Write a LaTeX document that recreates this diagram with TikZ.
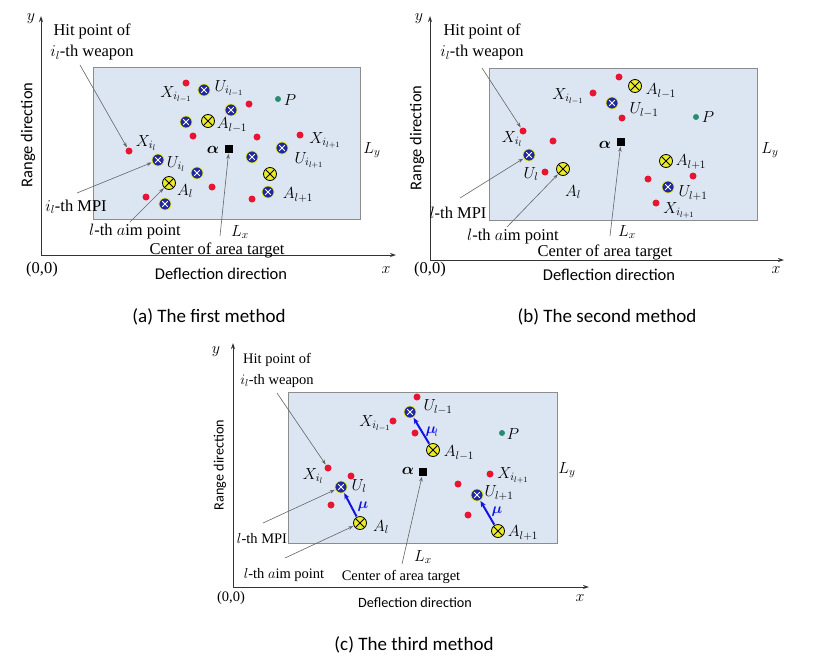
\RequirePackage{fix-cm}
\documentclass[tikz,border=0pt]{standalone}
\usepackage{amsmath,bm}
\usepackage{fontspec}
\setmainfont{Liberation Serif}
\newfontfamily\sansf{Carlito}
\usetikzlibrary{arrows.meta}
\definecolor{rectfill}{RGB}{220,230,242}
\definecolor{rectdraw}{RGB}{140,140,140}
\definecolor{dotred}{RGB}{232,20,50}
\definecolor{markblue}{RGB}{30,40,160}
\definecolor{markyellow}{RGB}{235,235,40}
\definecolor{dotteal}{RGB}{40,140,110}
\definecolor{arrgray}{RGB}{100,100,100}
\definecolor{mublue}{RGB}{20,20,225}
\tikzset{
  axis/.style={line width=1pt, black!80, -{Stealth[length=6pt,width=4pt]}},
  area/.style={fill=rectfill, draw=rectdraw, line width=0.8pt},
  lab/.style={inner sep=0pt, font=\fontsize{16}{18}\selectfont},
  mulab/.style={inner sep=0pt, text=mublue, font=\fontsize{15}{16}\selectfont},
  txt/.style={inner sep=0pt, align=center, font=\fontsize{16.5}{21}\selectfont},
  txtc/.style={inner sep=0pt, align=center, font=\fontsize{14.5}{21}\selectfont},
  sanslab/.style={inner sep=0pt, font=\sansf\fontsize{16.5}{18}\selectfont},
  sanslabc/.style={inner sep=0pt, font=\sansf\fontsize{14.2}{16}\selectfont},
  caption/.style={inner sep=0pt, font=\sansf\fontsize{19}{21}\selectfont},
  ptr/.style={arrgray, line width=0.6pt, -{Stealth[length=5pt,width=3.5pt]}, shorten >=0.5pt},
  muarrow/.style={mublue, line width=2pt, -{Stealth[length=6pt,width=5pt]}, shorten >=0.5pt, shorten <=0.5pt},
  rd/.style={circle, fill=dotred, inner sep=0pt, minimum size=7pt},
  td/.style={circle, fill=dotteal, inner sep=0pt, minimum size=6pt},
  sq/.style={fill=black, inner sep=0pt, minimum size=8pt},
  bm/.style={circle, fill=markblue, draw=markyellow, line width=0.7pt, minimum size=12pt, inner sep=0pt,
    path picture={\draw[white,line width=0.9pt]
      ([shift={(-2.8,-2.8)}]path picture bounding box.center) -- ([shift={(2.8,2.8)}]path picture bounding box.center)
      ([shift={(-2.8,2.8)}]path picture bounding box.center) -- ([shift={(2.8,-2.8)}]path picture bounding box.center);}},
  ym/.style={circle, fill=markyellow, draw=black, line width=0.8pt, minimum size=13pt, inner sep=0pt,
    path picture={\draw[black,line width=0.9pt]
      ([shift={(-4.8,-4.8)}]path picture bounding box.center) -- ([shift={(4.8,4.8)}]path picture bounding box.center)
      ([shift={(-4.8,4.8)}]path picture bounding box.center) -- ([shift={(4.8,-4.8)}]path picture bounding box.center);}}
}
\begin{document}
\begin{tikzpicture}[x=1pt,y=-1pt]
\useasboundingbox (0,0) rectangle (826,664);
\fill[white] (0,0) rectangle (826,664);

%%%%%%%%%%%%%%%% (a)
\coordinate (aO) at (41,255);
\coordinate (aY) at (41,16);
\coordinate (aX) at (396,255);
\draw[axis] (aO) -- (aY);
\draw[axis] (aO) -- (aX);
\node[lab] (a-y) at (31,19) {$y$};
\node[lab] (a-x) at (386,270) {$x$};
\node[txt] (a-00) at (42,270) {(0,0)};
\node[sanslab] (a-defl) at (221,274) {Deflection direction};
\node[sanslab, rotate=90] (a-range) at (28,135) {Range direction};
\draw[area] (93,67) rectangle (360,219);
\node[txt] (a-hit) at (92,42) {Hit point of\\$i_l$-th weapon};
\node[txt] (a-mpi) at (76,207) {$i_l$-th MPI};
\node[txt] (a-aim) at (135,232) {$l$-th $a$im point};
\node[txt] (a-center) at (217,250) {Center of area target};
\node[lab] (a-Lx) at (240,232) {$L_x$};
\node[lab] (a-Ly) at (372,150) {$L_y$};
\node[sq] (a-sq) at (229,149) {};
\node[lab] (a-alpha) at (213,150) {$\bm{\alpha}$};
% red
\node[rd] (a-r1) at (186,83) {};
\node[rd] (a-r2) at (249,104) {};
\node[rd] (a-r3) at (193,136) {};
\node[rd] (a-r4) at (257,137) {};
\node[rd] (a-r5) at (300,135) {};
\node[rd] (a-r6) at (129,151) {};
\node[rd] (a-r7) at (212,187) {};
\node[rd] (a-r8) at (146,197) {};
\node[rd] (a-r9) at (252,199) {};
% blue
\node[bm] (a-b1) at (204,90) {};
\node[bm] (a-b2) at (231,110) {};
\node[bm] (a-b3) at (186,122) {};
\node[bm] (a-b4) at (158,160) {};
\node[bm] (a-b5) at (197,173) {};
\node[bm] (a-b6) at (252,157) {};
\node[bm] (a-b7) at (282,148) {};
\node[bm] (a-b8) at (165,204) {};
\node[bm] (a-b9) at (268,192) {};
% yellow
\node[ym] (a-y1) at (208,121) {};
\node[ym] (a-y2) at (270,174) {};
\node[ym] (a-y3) at (169,183) {};
\node[td] (a-p) at (278,99) {};
% labels
\node[lab] (a-lX1) at (176,94) {$X_{i_{l-1}}$};
\node[lab] (a-lU1) at (229,88) {$U_{i_{l-1}}$};
\node[lab] (a-lP) at (290,100) {$P$};
\node[lab] (a-lA1) at (232,125) {$A_{l-1}$};
\node[lab] (a-lX3) at (325,140) {$X_{i_{l+1}}$};
\node[lab] (a-lX2) at (146,143) {$X_{i_l}$};
\node[lab] (a-lU2) at (176,164) {$U_{i_l}$};
\node[lab] (a-lU3) at (309,160) {$U_{i_{l+1}}$};
\node[lab] (a-lA2) at (185,191) {$A_l$};
\node[lab] (a-lA3) at (298,195) {$A_{l+1}$};
% pointers
\coordinate (a-t1) at (80,65);
\coordinate (a-t2) at (77,193);
\coordinate (a-t3) at (130,222);
\coordinate (a-t4) at (220,236);
\draw[ptr] (a-t1) -- (a-r6);
\draw[ptr] (a-t2) -- (a-b4);
\draw[ptr] (a-t3) -- (a-y3);
\draw[ptr] (a-t4) -- (a-sq);
\node[caption] (a-cap) at (209,317) {(a) The first method};

%%%%%%%%%%%%%%%% (b)
\coordinate (bO) at (430,260);
\coordinate (bY) at (430,16);
\coordinate (bX) at (784,260);
\draw[axis] (bO) -- (bY);
\draw[axis] (bO) -- (bX);
\node[lab] (b-y) at (419,19) {$y$};
\node[lab] (b-x) at (776,270) {$x$};
\node[txt] (b-00) at (430,270) {(0,0)};
\node[sanslab] (b-defl) at (609,275) {Deflection direction};
\node[sanslab, rotate=90] (b-range) at (417,138) {Range direction};
\draw[area] (489,68) rectangle (757,220);
\node[txt] (b-hit) at (482,42) {Hit point of\\$i_l$-th weapon};
\node[txt] (b-mpi) at (458,213) {$l$-th MPI};
\node[txt] (b-aim) at (513,237) {$l$-th $a$im point};
\node[txt] (b-center) at (605,252) {Center of area target};
\node[lab] (b-Lx) at (627,232) {$L_x$};
\node[lab] (b-Ly) at (770,150) {$L_y$};
\node[sq] (b-sq) at (621,142) {};
\node[lab] (b-alpha) at (605,145) {$\bm{\alpha}$};
\node[rd] (b-r1) at (619,77) {};
\node[rd] (b-r2) at (593,93) {};
\node[rd] (b-r3) at (622,118) {};
\node[rd] (b-r4) at (523,131) {};
\node[rd] (b-r5) at (553,141) {};
\node[rd] (b-r6) at (545,172) {};
\node[rd] (b-r7) at (648,179) {};
\node[rd] (b-r8) at (693,176) {};
\node[rd] (b-r9) at (656,203) {};
\node[bm] (b-b1) at (612,103) {};
\node[bm] (b-b2) at (529,155) {};
\node[bm] (b-b3) at (668,187) {};
\node[ym] (b-y1) at (635,86) {};
\node[ym] (b-y2) at (563,169) {};
\node[ym] (b-y3) at (666,161) {};
\node[td] (b-p) at (696,117) {};
\node[lab] (b-lA1) at (661,91) {$A_{l-1}$};
\node[lab] (b-lX1) at (568,96) {$X_{i_{l-1}}$};
\node[lab] (b-lU1) at (644,110) {$U_{l-1}$};
\node[lab] (b-lP) at (708,117) {$P$};
\node[lab] (b-lX2) at (512,139) {$X_{i_l}$};
\node[lab] (b-lU2) at (531,174) {$U_l$};
\node[lab] (b-lA2) at (573,192) {$A_l$};
\node[lab] (b-lA3) at (691,162) {$A_{l+1}$};
\node[lab] (b-lU3) at (693,193) {$U_{l+1}$};
\node[lab] (b-lX3) at (679,210) {$X_{i_{l+1}}$};
\coordinate (b-t1) at (482,68);
\coordinate (b-t2) at (460,198);
\coordinate (b-t3) at (507,227);
\coordinate (b-t4) at (610,236);
\draw[ptr] (b-t1) -- (b-r4);
\draw[ptr] (b-t2) -- (b-b2);
\draw[ptr] (b-t3) -- (b-y2);
\draw[ptr] (b-t4) -- (b-sq);
\node[caption] (b-cap) at (607,317) {(b) The second method};

%%%%%%%%%%%%%%%% (c)
\coordinate (cO) at (233,587);
\coordinate (cY) at (233,343);
\coordinate (cX) at (589,587);
\draw[axis] (cO) -- (cY);
\draw[axis] (cO) -- (cX);
\node[lab] (c-y) at (216,352) {$y$};
\node[lab] (c-x) at (580,598) {$x$};
\node[txtc] (c-00) at (231,598) {(0,0)};
\node[sanslabc] (c-defl) at (415,603) {Deflection direction};
\node[sanslabc, rotate=90] (c-range) at (220,465) {Range direction};
\draw[area] (288,392) rectangle (557,543);
\node[txtc] (c-hit) at (277,370) {Hit point of\\$i_l$-th weapon};
\node[txtc] (c-mpi) at (262,539) {$l$-th MPI};
\node[txtc] (c-aim) at (284,575) {$l$-th $a$im point};
\node[txtc] (c-center) at (401,577) {Center of area target};
\node[lab] (c-Lx) at (423,557) {$L_x$};
\node[lab] (c-Ly) at (567,470) {$L_y$};
\node[sq] (c-sq) at (423,472) {};
\node[lab] (c-alpha) at (408,471) {$\bm{\alpha}$};
\node[rd] (c-r1) at (417,397) {};
\node[rd] (c-r2) at (393,421) {};
\node[rd] (c-r3) at (415,433) {};
\node[rd] (c-r4) at (328,468) {};
\node[rd] (c-r5) at (351,476) {};
\node[rd] (c-r6) at (490,474) {};
\node[rd] (c-r7) at (458,484) {};
\node[rd] (c-r8) at (331,505) {};
\node[rd] (c-r9) at (468,515) {};
\node[bm] (c-b1) at (410,412) {};
\node[bm] (c-b2) at (341,487) {};
\node[bm] (c-b3) at (477,495) {};
\node[ym] (c-y1) at (433,450) {};
\node[ym] (c-y2) at (360,523) {};
\node[ym] (c-y3) at (498,531) {};
\node[td] (c-p) at (502,433) {};
\draw[muarrow] (c-y1) -- (c-b1);
\draw[muarrow] (c-y2) -- (c-b2);
\draw[muarrow] (c-y3) -- (c-b3);
\node[mulab] (c-mu1) at (432,432) {$\bm{\mu}_{\!l}$};
\node[mulab] (c-mu2) at (363,507) {$\bm{\mu}$};
\node[mulab] (c-mu3) at (497,512) {$\bm{\mu}$};
\node[lab] (c-lU1) at (438,407) {$U_{l-1}$};
\node[lab] (c-lX1) at (375,423) {$X_{i_{l-1}}$};
\node[lab] (c-lA1) at (459,453) {$A_{l-1}$};
\node[lab] (c-lP) at (513,434) {$P$};
\node[lab] (c-lX2) at (313,476) {$X_{i_l}$};
\node[lab] (c-lU2) at (359,486) {$U_l$};
\node[lab] (c-lX3) at (513,475) {$X_{i_{l+1}}$};
\node[lab] (c-lU3) at (499,493) {$U_{l+1}$};
\node[lab] (c-lA2) at (381,527) {$A_l$};
\node[lab] (c-lA3) at (523,533) {$A_{l+1}$};
\coordinate (c-t1) at (277,393);
\coordinate (c-t2) at (263,523);
\coordinate (c-t3) at (285,558);
\coordinate (c-t4) at (402,564);
\draw[ptr] (c-t1) -- (c-r4);
\draw[ptr] (c-t2) -- (c-b2);
\draw[ptr] (c-t3) -- (c-y2);
\draw[ptr] (c-t4) -- (c-sq);
\node[caption] (c-cap) at (414,645) {(c) The third method};
\end{tikzpicture}
\end{document}
